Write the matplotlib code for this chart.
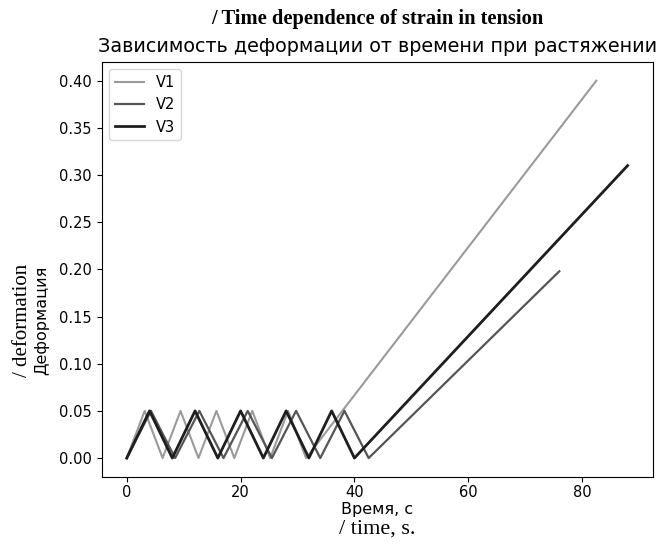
import matplotlib
matplotlib.use('Agg')
import matplotlib.pyplot as plt

plt.rcParams['font.family'] = ['DejaVu Sans']

# Vertices of each strain curve (time in s, strain)
t_v1 = [0, 3.15, 6.3, 9.45, 12.6, 15.75, 18.9, 22.05, 25.2, 28.35, 31.5, 82.5]
e_v1 = [0, 0.05, 0, 0.05, 0, 0.05, 0, 0.05, 0, 0.05, 0, 0.40]

t_v2 = [0, 4.25, 8.5, 12.75, 17.0, 21.25, 25.5, 29.75, 34.0, 38.25, 42.5, 76.0]
e_v2 = [0, 0.05, 0, 0.05, 0, 0.05, 0, 0.05, 0, 0.05, 0, 0.198]

t_v3 = [0, 4, 8, 12, 16, 20, 24, 28, 32, 36, 40, 88]
e_v3 = [0, 0.05, 0, 0.05, 0, 0.05, 0, 0.05, 0, 0.05, 0, 0.31]

yticks = [0.00, 0.05, 0.10, 0.15, 0.20, 0.25, 0.30, 0.35, 0.40]

fig = plt.figure(figsize=(6.67, 5.52), dpi=100)
ax = fig.add_axes([0.1525, 0.136, 0.826, 0.752])

ax.plot(t_v1, e_v1, color='#9a9a9a', linewidth=1.5, label='V1')
ax.plot(t_v2, e_v2, color='#555555', linewidth=1.6, label='V2')
ax.plot(t_v3, e_v3, color='#1e1e1e', linewidth=2.0, label='V3')

ax.set_yticks(yticks)
ax.set_yticklabels([f'{v:.2f}' for v in yticks])
ax.tick_params(labelsize=10.5)
ax.tick_params(axis='x', pad=2.5)
ax.legend(loc='upper left', fontsize=10.5)

# titles: english (serif, bold) above russian
fig.text(0.5655, 0.966, '/ Time dependence of strain in tension', ha='center', va='center',
         fontsize=14.8, fontweight='bold', family='Liberation Serif')
fig.text(0.5655, 0.916, 'Зависимость деформации от времени при растяжении', ha='center',
         va='center', fontsize=13.8)

fig.text(0.5655, 0.077, 'Время, с', ha='center', va='center', fontsize=11.5)
fig.text(0.5655, 0.042, '/ time, s.', ha='center', va='center', fontsize=16,
         family='Liberation Serif')
fig.text(0.062, 0.42, 'Деформация', ha='center', va='center', rotation=90, fontsize=11.5)
fig.text(0.033, 0.42, '/ deformation', ha='center', va='center', rotation=90,
         fontsize=15, family='Liberation Serif')

plt.savefig('out.png', dpi=100)
